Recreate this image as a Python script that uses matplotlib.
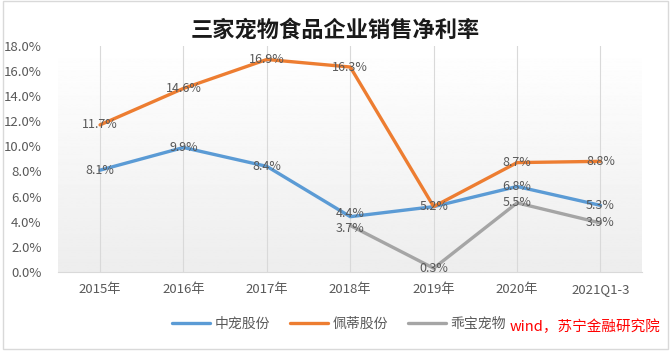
import matplotlib.pyplot as plt
import numpy as np
from matplotlib.patches import Rectangle

plt.rcParams['font.family'] = ['Noto Sans CJK SC', 'DejaVu Sans']

years = ['2015年', '2016年', '2017年', '2018年', '2019年', '2020年', '2021Q1-3']
zhongchong = [8.1, 9.9, 8.4, 4.4, 5.2, 6.8, 5.3]
peidi = [11.7, 14.6, 16.9, 16.3, 5.2, 8.7, 8.8]
guaibao_years = ['2018年', '2019年', '2020年', '2021Q1-3']
guaibao = [3.7, 0.3, 5.5, 3.9]

names = ['中宠股份', '佩蒂股份', '乖宝宠物']
colors = ['#5B9BD5', '#ED7D31', '#A5A5A5']

fig = plt.figure(figsize=(6.71, 3.51), dpi=100)
ax = fig.add_axes([0.087, 0.225, 0.87, 0.645])

# light gradient background like the original
grad = np.linspace(1.0, 0.93, 256).reshape(-1, 1)
ax.imshow(grad, cmap='gray', vmin=0, vmax=1, aspect='auto',
          extent=[-0.5, 6.5, 0, 18], zorder=0)

x = np.arange(len(years))
gx = [years.index(y) for y in guaibao_years]

series = [(x, zhongchong), (x, peidi), (gx, guaibao)]
for (xs, vals), name, c in zip(series, names, colors):
    ax.plot(xs, vals, color=c, lw=2.4, label=name, zorder=3, solid_capstyle='round')

# data labels (skip orange 2019, hidden behind blue one)
for (xs, vals), k in zip(series, range(3)):
    for xi, v in zip(xs, vals):
        if k == 1 and xi == 4:
            continue
        dy = 0
        if xi == 3 and k == 0:
            dy = 2
        if xi == 3 and k == 2:
            dy = -2.5
        ax.annotate(f'{v:.1f}%', (xi, v), xytext=(0, dy), textcoords='offset points',
                    ha='center', va='center', fontsize=9, color='#595959', zorder=4)

ax.set_xlim(-0.5, 6.5)
ax.set_ylim(0, 18)
ax.set_yticks(np.arange(0, 18.1, 2))
ax.set_yticklabels([f'{v:.1f}%' for v in np.arange(0, 18.1, 2)])
ax.set_xticks(x)
ax.set_xticklabels(years)
ax.tick_params(length=0, labelsize=9.5, labelcolor='#595959')
ax.tick_params(axis='x', pad=8)
ax.tick_params(axis='y', pad=12)
ax.grid(axis='x', color='#D9D9D9', lw=0.8, zorder=1)
for s in ['top', 'right', 'left']:
    ax.spines[s].set_visible(False)
ax.spines['bottom'].set_color('#D9D9D9')

fig.text(0.5, 0.915, '三家宠物食品企业销售净利率', ha='center', va='center',
         fontsize=16, fontweight='bold', color='#1a1a1a')

fig.legend(loc='center', bbox_to_anchor=(0.505, 0.078), ncol=3, frameon=False,
           fontsize=10, handlelength=2.8, columnspacing=1.4, handletextpad=0.3,
           labelcolor='#595959')

fig.text(0.985, 0.07, 'wind，苏宁金融研究院', ha='right', va='center', color='red',
         fontsize=10.5, style='italic')

fig.patches.append(Rectangle((0.004, 0.006), 0.992, 0.99, transform=fig.transFigure,
                             fill=False, edgecolor='#D9D9D9', lw=1))

fig.savefig('out.png', dpi=100)
